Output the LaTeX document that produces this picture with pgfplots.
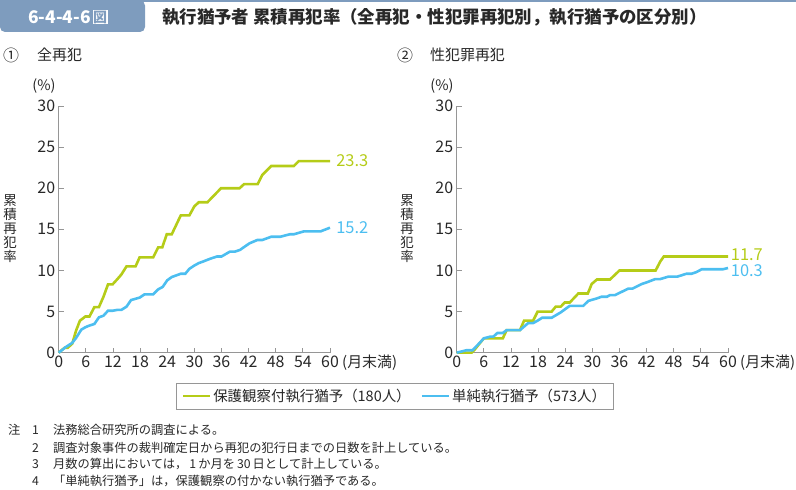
\documentclass[border=0pt]{standalone}
\usepackage{fontspec}
\setmainfont{Noto Sans CJK JP}
\usepackage{pgfplots}
\pgfplotsset{compat=1.18}
\definecolor{cgreen}{RGB}{181,204,24}
\definecolor{cblue}{RGB}{76,190,240}
\definecolor{cbar}{RGB}{126,156,190}
\definecolor{caxis}{RGB}{150,150,150}
\definecolor{ctext}{RGB}{40,40,40}
\pgfplotsset{myax/.style={
  scale only axis, width=271.3bp, height=246.7bp,
  anchor=origin,
  xmin=0, xmax=60, ymin=0, ymax=30,
  xtick={0,6,...,60}, ytick={0,5,...,30},
  axis x line*=bottom, axis y line*=left,
  axis line style={caxis, line width=0.8bp},
  tick style={caxis, line width=0.8bp},
  tick align=inside, major tick length=5bp,
  ticklabel style={font=\fontsize{16}{16}\selectfont, text=ctext},
  /pgf/number format/assume math mode=true,
  clip=false,
}}
\begin{document}
\begin{tikzpicture}
\useasboundingbox (0bp,0bp) rectangle (796bp,490bp);
% title bar
\fill[cbar] (0bp,487.5bp) rectangle (796bp,489.5bp);
\fill[cbar, rounded corners=5bp] (0bp,458bp) rectangle (145bp,489.5bp);
\fill[cbar] (0bp,470bp) rectangle (140bp,489.5bp);
\node[anchor=west, text=white, font=\bfseries\fontsize{17.5}{17.5}\selectfont, inner sep=0] (fig) at (28bp,473bp) {6-4-4-6};
\node[anchor=west, fill=white, text=cbar, font=\bfseries\fontsize{14}{14}\selectfont, inner sep=0.6bp] at ([xshift=1.5bp]fig.east) {図};
\node[anchor=west, text=ctext, font=\bfseries\fontsize{17.5}{17.5}\selectfont, inner sep=0] at (162bp,473bp) {執行猶予者 累積再犯率（全再犯・性犯罪再犯別，執行猶予の区分別）};
% subtitles
\node[anchor=west, text=ctext, font=\fontsize{16}{16}\selectfont, inner sep=0] at (3bp,435bp) {①};
\node[anchor=west, text=ctext, font=\fontsize{15}{15}\selectfont, inner sep=0] at (37bp,435bp) {全再犯};
\node[anchor=west, text=ctext, font=\fontsize{16}{16}\selectfont, inner sep=0] at (397bp,435bp) {②};
\node[anchor=west, text=ctext, font=\fontsize{15}{15}\selectfont, inner sep=0] at (430bp,435bp) {性犯罪再犯};
% y labels
\node[text=ctext, font=\fontsize{13.5}{14}\selectfont, align=center, inner sep=0] at (10bp,261bp) {累\\積\\再\\犯\\率};
\node[text=ctext, font=\fontsize{13.5}{14}\selectfont, align=center, inner sep=0] at (407bp,261bp) {累\\積\\再\\犯\\率};
\node[text=ctext, font=\fontsize{14.5}{14.5}\selectfont, inner sep=0] at (44bp,404bp) {(\%)};
\node[text=ctext, font=\fontsize{14.5}{14.5}\selectfont, inner sep=0] at (442bp,404bp) {(\%)};
\node[anchor=west, text=ctext, font=\fontsize{15}{15}\selectfont, inner sep=0] at (342bp,127bp) {(月末満)};
\node[anchor=west, text=ctext, font=\fontsize{15}{15}\selectfont, inner sep=0] at (740bp,127bp) {(月末満)};

\begin{axis}[myax, at={(58.7bp,137.3bp)},
  legend columns=2,
  legend style={at={(1.2396,-0.1755)}, anchor=center, draw=caxis, line width=0.8bp,
    font=\fontsize{14.5}{14.5}\selectfont, text=ctext, inner xsep=5bp, inner ysep=4bp,
    /tikz/every even column/.append style={column sep=8bp}},
  legend image code/.code={\draw[#1, line width=2.4bp] (0bp,0bp) -- (27bp,0bp);},
]
\addplot[cgreen, line width=2.6bp] coordinates {
(0,0) (1.3,0.6) (2,0.6) (3,1.1) (3.85,2.7) (4.7,3.9) (5.9,4.4) (6.8,4.4) (7.9,5.55) (8.9,5.55) (9.9,6.8) (10.9,8.3) (11.9,8.3) (12.9,8.9) (13.85,9.5) (15,10.5) (17,10.5) (17.9,11.6) (20.9,11.6) (22,12.8) (22.9,12.8) (23.9,14.4) (25,14.4) (27,16.7) (28.9,16.7) (30,17.8) (31,18.3) (32.9,18.3) (35.9,20) (40,20) (41,20.5) (44,20.5) (45,21.6) (47,22.7) (52,22.7) (53.1,23.3) (60,23.3)
} node[pos=1, anchor=west, text=cgreen, font=\fontsize{16.5}{16.5}\selectfont, inner sep=0, xshift=5bp] {23.3};
\addlegendentry{保護観察付執行猶予（180人）}
\addplot[cblue, line width=2.6bp] coordinates {
(0,0) (1.6,0.7) (3,1.2) (3.85,1.8) (5,2.8) (5.9,3.1) (6.8,3.3) (7.9,3.5) (8.9,4.3) (9.9,4.5) (10.9,5.1) (11.9,5.1) (12.9,5.2) (13.85,5.2) (15,5.6) (16,6.4) (17.9,6.7) (19,7.1) (20.9,7.1) (22,7.7) (23,8.0) (24,8.8) (25,9.2) (26,9.4) (27,9.6) (28,9.6) (28.9,10.2) (30,10.6) (31,10.9) (32,11.1) (32.9,11.3) (33.9,11.5) (35,11.7) (36,11.7) (37.9,12.3) (39,12.3) (40.1,12.5) (41,12.85) (42.2,13.3) (43.9,13.7) (45,13.7) (47,14.1) (49,14.1) (51.1,14.4) (52,14.4) (54.2,14.75) (57.9,14.75) (60,15.2)
} node[pos=1, anchor=west, text=cblue, font=\fontsize{16.5}{16.5}\selectfont, inner sep=0, xshift=5bp] {15.2};
\addlegendentry{単純執行猶予（573人）}
\end{axis}

\begin{axis}[myax, at={(456.7bp,137.3bp)}]
\addplot[cgreen, line width=2.6bp] coordinates {
(0,0) (3.3,0) (4,0.4) (6,1.75) (10.2,1.75) (11.05,2.75) (14,2.75) (14.9,3.9) (16.9,3.9) (17.9,5.0) (21,5.0) (21.9,5.6) (23,5.6) (23.9,6.1) (25,6.1) (26.9,7.2) (29,7.2) (29.85,8.35) (31,8.9) (33.9,8.9) (36,10.0) (44,10.0) (45,11.07) (45.8,11.7) (60,11.7)
};
\addplot[cblue, line width=2.6bp] coordinates {
(0,0) (2.2,0.3) (3.5,0.3) (5,1.15) (6,1.75) (7.4,1.95) (8.1,1.95) (9,2.4) (10.2,2.4) (11.05,2.75) (14,2.75) (15.8,3.6) (16.9,3.6) (17.9,3.9) (18.9,4.25) (21,4.25) (23,4.9) (25,5.7) (28,5.7) (29.1,6.3) (31,6.6) (32,6.8) (33.2,6.8) (33.9,7.0) (35,7.0) (36.1,7.3) (38,7.8) (38.9,7.8) (40.9,8.35) (42,8.55) (43.9,8.95) (45,8.95) (46.8,9.25) (48.8,9.25) (50.8,9.6) (51.9,9.6) (53,9.8) (54.2,10.15) (58.9,10.15) (60,10.3)
};
\node[anchor=west, text=cgreen, font=\fontsize{16.5}{16.5}\selectfont, inner sep=0] at (axis cs:60.6,11.9) {11.7};
\node[anchor=west, text=cblue, font=\fontsize{16.5}{16.5}\selectfont, inner sep=0] at (axis cs:60.6,10.0) {10.3};
\end{axis}

% notes
\begin{scope}[every node/.style={anchor=west, text=ctext, font=\fontsize{12.3}{12.3}\selectfont, inner sep=0}]
\node at (8bp,60bp) {注};
\node at (32bp,60bp) {1};
\node at (53bp,60bp) {法務総合研究所の調査による。};
\node at (32bp,42bp) {2};
\node at (53bp,42bp) {調査対象事件の裁判確定日から再犯の犯行日までの日数を計上している。};
\node at (32bp,26bp) {3};
\node at (53bp,26bp) {月数の算出においては，\,1\,か月を\,30\,日として計上している。};
\node at (32bp,9bp) {4};
\node at (53bp,9bp) {「単純執行猶予」は，保護観察の付かない執行猶予である。};
\end{scope}
\end{tikzpicture}
\end{document}
